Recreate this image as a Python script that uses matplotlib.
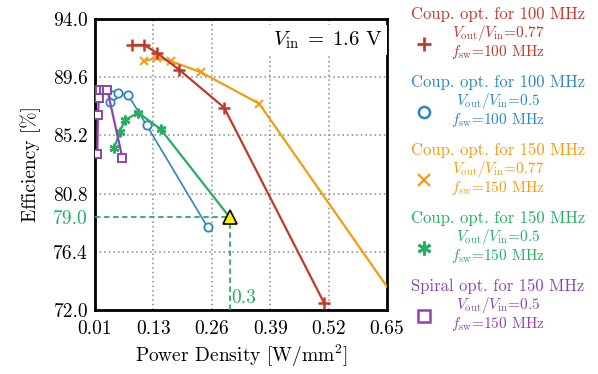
import matplotlib
matplotlib.use("Agg")
import matplotlib.pyplot as plt
from matplotlib.lines import Line2D

plt.rcParams['font.family'] = ['cmr10', 'DejaVu Serif']
plt.rcParams['mathtext.fontset'] = 'cm'
plt.rcParams['axes.unicode_minus'] = False
plt.rcParams['axes.formatter.use_mathtext'] = True

# Data (power density W/mm^2, efficiency %)
red_x = [0.083, 0.109, 0.137, 0.187, 0.2875, 0.5105]
red_y = [92.04, 92.04, 91.46, 90.18, 87.30, 72.5]
orange_x = [0.108, 0.137, 0.169, 0.2355, 0.3655, 0.68]
orange_y = [90.81, 91.06, 90.81, 89.98, 87.60, 72.3]
blue_x = [0.0326, 0.0399, 0.0511, 0.0743, 0.115, 0.251]
blue_y = [87.72, 88.22, 88.40, 88.22, 85.97, 78.24]
green_x = [0.0422, 0.0555, 0.066, 0.0957, 0.1463]
green_y = [84.21, 85.47, 86.34, 86.92, 85.67]
purple_x = [0.0051, 0.0065, 0.0087, 0.0103, 0.0198, 0.0274, 0.0609]
purple_y = [83.76, 86.72, 88.05, 88.65, 88.65, 88.65, 83.51]
target_x = 0.3
target_y = 79.0

xticks = [0.0, 0.13, 0.26, 0.39, 0.52, 0.65]
xticklabels = ['0.01', '0.13', '0.26', '0.39', '0.52', '0.65']
yticks = [72.0, 76.4, 80.8, 85.2, 89.6, 94.0]
yticklabels = ['72.0', '76.4', '80.8', '85.2', '89.6', '94.0']

RED = '#C0392B'
ORANGE = '#F39C12'
BLUE = '#2E86C1'
GREEN = '#27AE60'
PURPLE = '#8E44AD'

fig = plt.figure(figsize=(5.98, 3.74), dpi=100)
ax = fig.add_axes([95/598, 1-310/374, 292/598, 291/374])

ax.plot(red_x, red_y, color=RED, lw=1.6, marker='+', ms=8, mew=1.8, zorder=4)
ax.plot(orange_x, orange_y, color=ORANGE, lw=1.6, marker='x', ms=6, mew=1.4, zorder=3)
ax.plot(blue_x, blue_y, color=BLUE, lw=1.2, marker='o', ms=6, mfc='white', mew=1.3, zorder=4)
ax.plot(green_x + [target_x], green_y + [target_y], color=GREEN, lw=1.6, zorder=4)
ax.plot(green_x, green_y, color=GREEN, lw=0, marker=(6, 2, 0), ms=7, mew=1.7, zorder=4)
ax.plot(purple_x, purple_y, color=PURPLE, lw=1.6, marker='s', ms=5.5, mfc='white', mew=1.4, zorder=5)

# target marker and dashed guides
ax.plot([0, target_x], [target_y, target_y], color=GREEN, ls=(0, (3, 2)), lw=1.3, zorder=3)
ax.plot([target_x, target_x], [72.0, target_y], color=GREEN, ls=(0, (3, 2)), lw=1.3, zorder=3)
ax.plot([target_x], [target_y], marker='^', ms=10, mfc='#FFF200', mec='black', mew=1.2, zorder=6, clip_on=False)
ax.text(target_x + 0.003, 72.25, '0.3', color=GREEN, fontsize=14, ha='left', va='bottom')

ax.set_xlim(0, 0.65)
ax.set_ylim(72.0, 94.0)
ax.set_xticks(xticks)
ax.set_xticklabels(xticklabels)
ax.set_yticks(yticks + [target_y])
ax.set_yticklabels(yticklabels + ['79.0'])
ax.get_yticklabels()[-1].set_color(GREEN)
ax.tick_params(labelsize=14, direction='in', length=0)
ax.tick_params(axis='x', pad=7)
ax.tick_params(axis='y', pad=5)

for y in yticks[1:-1]:
    ax.axhline(y, color='#888888', ls=(0, (1, 2)), lw=1.1, zorder=1)
for x in xticks[1:-1]:
    ax.axvline(x, color='#888888', ls=(0, (1, 2)), lw=1.1, zorder=1)

for s in ax.spines.values():
    s.set_linewidth(2.0)

ax.set_xlabel('Power Density [W/mm$^2$]', fontsize=14, labelpad=4)
ax.set_ylabel('Efficiency [%]', fontsize=14, labelpad=9)

ax.text(0.985, 0.965, r'$V_{\rm in}\;=\;1.6$ V', transform=ax.transAxes, fontsize=15,
        ha='right', va='top', zorder=7,
        bbox=dict(facecolor='white', edgecolor='none', pad=3))

# Legend (manual)
entries = [
    ('Coup. opt. for 100 MHz', '0.77', '100', RED, dict(marker='+', ms=10, mew=2)),
    ('Coup. opt. for 100 MHz', '0.5', '100', BLUE, dict(marker='o', ms=8, mfc='white', mew=1.8)),
    ('Coup. opt. for 150 MHz', '0.77', '150', ORANGE, dict(marker='x', ms=9, mew=1.6)),
    ('Coup. opt. for 150 MHz', '0.5', '150', GREEN, dict(marker=(6, 2, 0), ms=10, mew=2)),
    ('Spiral opt. for 150 MHz', '0.5', '150', PURPLE, dict(marker='s', ms=8, mfc='white', mew=1.8)),
]
cx = 498 / 598
for i, (title, ratio, f, col, mk) in enumerate(entries):
    y0 = 14 + 68 * i
    fig.text(cx, 1 - y0/374, title, color=col, fontsize=12, ha='center', va='center')
    fig.text(cx, 1 - (y0 + 19)/374, r'$V_{\rm out}/V_{\rm in}$=' + ratio, color=col,
             fontsize=11, ha='center', va='center')
    fig.text(cx, 1 - (y0 + 38)/374, r'$f_{\rm sw}$=' + f + ' MHz', color=col,
             fontsize=11, ha='center', va='center')
    fig.add_artist(Line2D([424/598], [1 - (y0 + 30)/374], color=col, lw=0,
                          transform=fig.transFigure, **mk))

fig.savefig('out.png', dpi=100)
